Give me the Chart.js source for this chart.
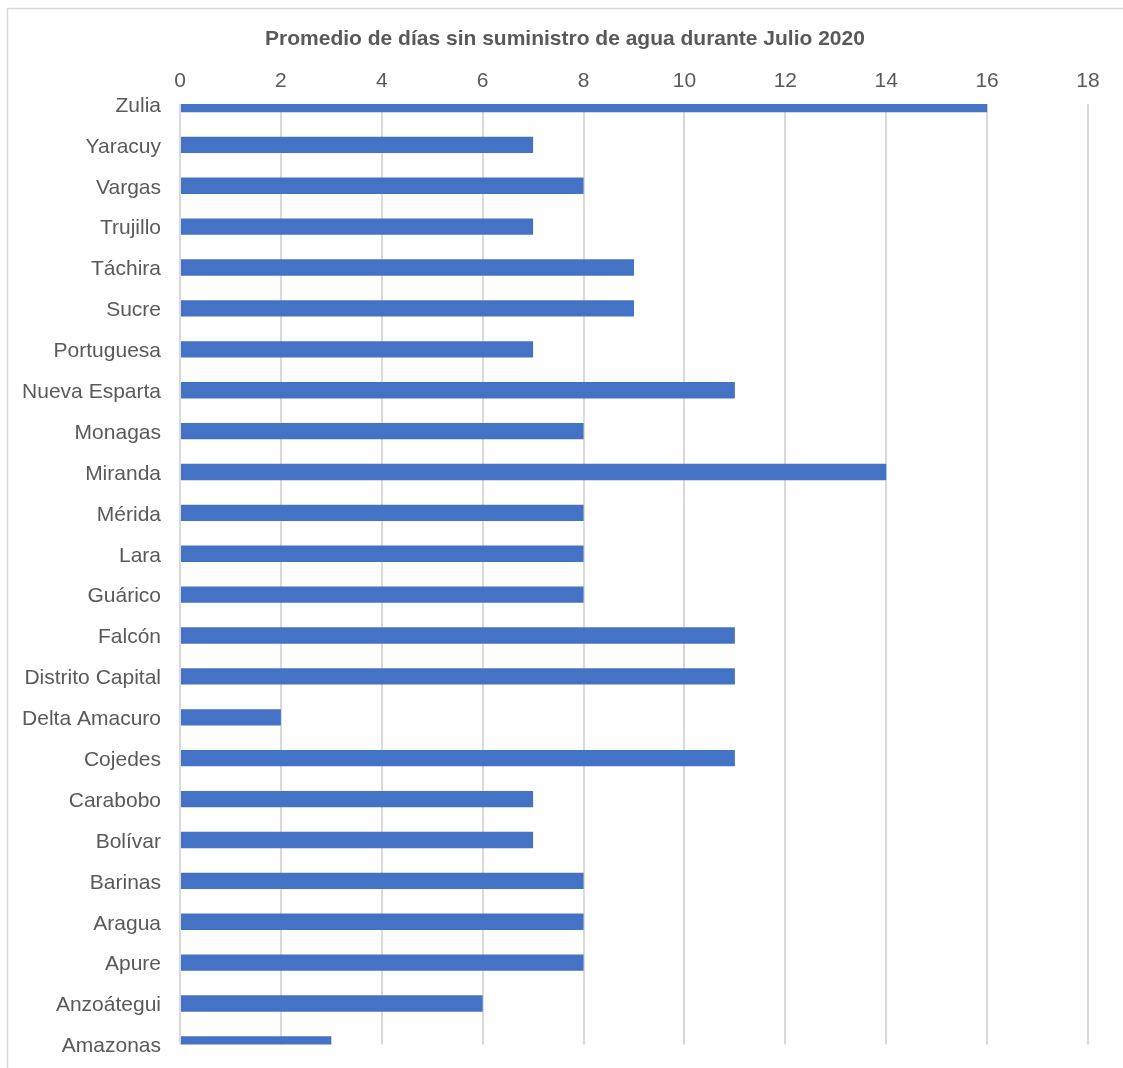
<!DOCTYPE html>
<html>
<head>
<meta charset="utf-8">
<script src="https://cdn.jsdelivr.net/npm/chart.js@4"></script>
<style>
  body { margin: 0; background: #fff; }
  #chart { display: block; }
</style>
</head>
<body>
<canvas id="chart" width="1123" height="1068"></canvas>
<script>
// datos (de arriba hacia abajo)
const estados = ['Zulia', 'Yaracuy', 'Vargas', 'Trujillo', 'Táchira', 'Sucre', 'Portuguesa',
  'Nueva Esparta', 'Monagas', 'Miranda', 'Mérida', 'Lara', 'Guárico', 'Falcón',
  'Distrito Capital', 'Delta Amacuro', 'Cojedes', 'Carabobo', 'Bolívar', 'Barinas',
  'Aragua', 'Apure', 'Anzoátegui', 'Amazonas'];
const dias = [16, 7, 8, 7, 9, 9, 7, 11, 8, 14, 8, 8, 8, 11, 11, 2, 11, 7, 7, 8, 8, 8, 6, 3];
const ejeMin = 0;
const ejeMax = 18;
const ejePaso = 2;
const titulo = 'Promedio de días sin suministro de agua durante Julio 2020';

const gris = '#595959';
const fuente = "'Liberation Sans', Arial, sans-serif";

// marco gris claro + titulo centrado en la zona del grafico
const marco = {
  id: 'marco',
  beforeDraw(chart) {
    const ctx = chart.ctx;
    ctx.save();
    ctx.fillStyle = '#fff';
    ctx.fillRect(0, 0, chart.width, chart.height);
    ctx.strokeStyle = '#d9d9d9';
    ctx.lineWidth = 1.5;
    ctx.strokeRect(7.5, 8.5, chart.width + 20, chart.height + 20);
    ctx.restore();
  },
  afterDraw(chart) {
    const ctx = chart.ctx;
    ctx.save();
    ctx.fillStyle = gris;
    ctx.font = 'bold 21px ' + fuente;
    ctx.textAlign = 'center';
    ctx.textBaseline = 'middle';
    ctx.fillText(titulo, 565, 39);
    ctx.restore();
  }
};

new Chart(document.getElementById('chart').getContext('2d'), {
  type: 'bar',
  data: {
    labels: estados,
    datasets: [{
      data: dias,
      backgroundColor: '#4472C4',
      borderWidth: 0,
      barPercentage: 0.4,
      categoryPercentage: 1
    }]
  },
  options: {
    indexAxis: 'y',
    responsive: false,
    animation: false,
    layout: { padding: { left: 0, right: 35, top: 0, bottom: 23 } },
    plugins: {
      legend: { display: false },
      tooltip: { enabled: false },
      title: { display: false }
    },
    scales: {
      x: {
        position: 'top',
        min: ejeMin,
        max: ejeMax,
        ticks: { stepSize: ejePaso, color: gris, font: { family: fuente, size: 21 }, padding: 10 },
        grid: { color: '#d9d9d9', lineWidth: 2, drawTicks: false },
        border: { display: false },
        afterFit(scale) { scale.height = 104; }
      },
      y: {
        offset: false,
        ticks: { color: gris, font: { family: fuente, size: 21 }, padding: 11, labelOffset: 2, autoSkip: false },
        grid: { display: false },
        border: { display: false },
        afterFit(scale) { scale.width = 180; }
      }
    }
  },
  plugins: [marco]
});
</script>
</body>
</html>
